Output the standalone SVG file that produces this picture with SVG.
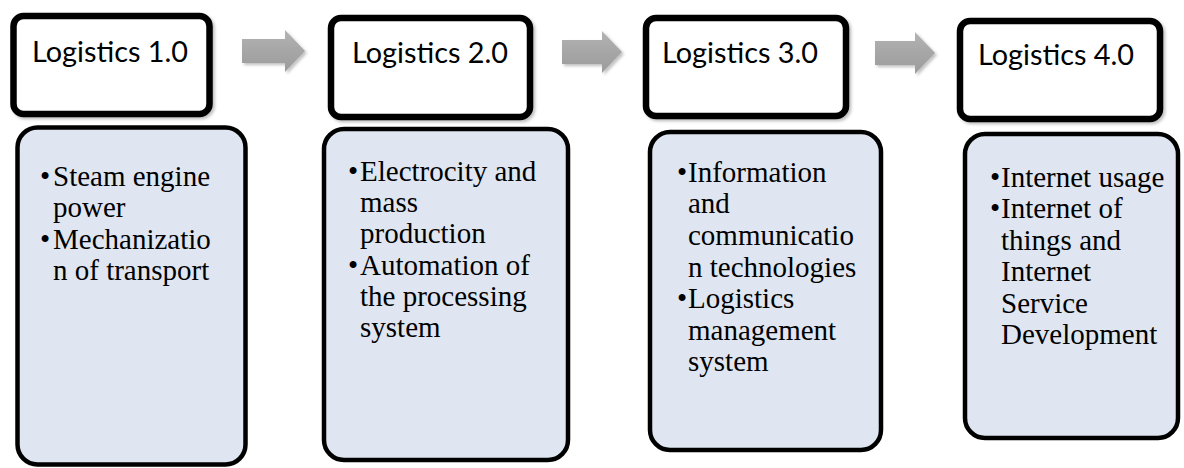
<svg xmlns="http://www.w3.org/2000/svg" width="1184" height="468" viewBox="0 0 1184 468">
<defs>
<filter id="sh" x="-10%" y="-10%" width="130%" height="130%"><feDropShadow dx="2" dy="2" stdDeviation="1.5" flood-color="#000" flood-opacity="0.25"/></filter>
<linearGradient id="ag" x1="0" y1="0" x2="0" y2="1"><stop offset="0" stop-color="#b4b4b4"/><stop offset="0.5" stop-color="#a6a6a6"/><stop offset="1" stop-color="#9c9c9c"/></linearGradient>
</defs>
<style>
.title{fill:#fff;stroke:#000;stroke-width:6.5}
.body{fill:#dfe6f1;stroke:#000;stroke-width:4.5}
.tt{font-family:Lato,"Liberation Sans",sans-serif;font-size:29px;fill:#000}
.bt{font-family:"Liberation Serif","Times New Roman",serif;font-size:29px;fill:#000}
.arrow{fill:url(#ag)}
</style>
<rect width="1184" height="468" fill="#fff"/>
<g id="connectors" filter="url(#sh)">
<path class="arrow" d="M242,39 H285 V30 L305,51 L285,72 V63 H242 Z"/>
<path class="arrow" d="M562,40 H602 V31 L622,52 L602,73 V64 H562 Z"/>
<path class="arrow" d="M875,41 H915 V32 L935,53 L915,74 V65 H875 Z"/>
</g>
<g id="node1">
<rect class="title" x="13.5" y="16" width="196" height="98" rx="10" filter="url(#sh)"/>
<text class="tt" x="32" y="62" textLength="156" lengthAdjust="spacingAndGlyphs">Logistics 1.0</text>
<rect class="body" x="17.5" y="127.5" width="228" height="337" rx="20"/>
<text class="bt"><tspan x="40" y="186">•</tspan><tspan x="53" y="186">Steam engine</tspan><tspan x="53" y="217">power</tspan><tspan x="40" y="249">•</tspan><tspan x="53" y="249">Mechanizatio</tspan><tspan x="53" y="280">n of transport</tspan></text>
</g>
<g id="node2">
<rect class="title" x="331" y="18" width="199" height="99" rx="10" filter="url(#sh)"/>
<text class="tt" x="352" y="63" textLength="156" lengthAdjust="spacingAndGlyphs">Logistics 2.0</text>
<rect class="body" x="324" y="129" width="244" height="331" rx="20"/>
<text class="bt"><tspan x="348" y="181">•</tspan><tspan x="360" y="181">Electrocity and</tspan><tspan x="360" y="212">mass</tspan><tspan x="360" y="243">production</tspan><tspan x="348" y="275">•</tspan><tspan x="360" y="275">Automation of</tspan><tspan x="360" y="306">the processing</tspan><tspan x="360" y="337">system</tspan></text>
</g>
<g id="node3">
<rect class="title" x="646" y="18" width="200" height="98" rx="10" filter="url(#sh)"/>
<text class="tt" x="662" y="63" textLength="156" lengthAdjust="spacingAndGlyphs">Logistics 3.0</text>
<rect class="body" x="650" y="132" width="231" height="318" rx="20"/>
<text class="bt"><tspan x="677" y="182">•</tspan><tspan x="688" y="182">Information</tspan><tspan x="688" y="213">and</tspan><tspan x="688" y="245">communicatio</tspan><tspan x="688" y="277">n technologies</tspan><tspan x="677" y="308">•</tspan><tspan x="688" y="308">Logistics</tspan><tspan x="688" y="340">management</tspan><tspan x="688" y="371">system</tspan></text>
</g>
<g id="node4">
<rect class="title" x="960" y="21" width="200" height="98" rx="10" filter="url(#sh)"/>
<text class="tt" x="978" y="65" textLength="156" lengthAdjust="spacingAndGlyphs">Logistics 4.0</text>
<rect class="body" x="965" y="134" width="213" height="304" rx="20"/>
<text class="bt"><tspan x="990" y="187">•</tspan><tspan x="1001" y="187">Internet usage</tspan><tspan x="990" y="218">•</tspan><tspan x="1001" y="218">Internet of</tspan><tspan x="1001" y="250">things and</tspan><tspan x="1001" y="281">Internet</tspan><tspan x="1001" y="313">Service</tspan><tspan x="1001" y="344">Development</tspan></text>
</g>
</svg>
